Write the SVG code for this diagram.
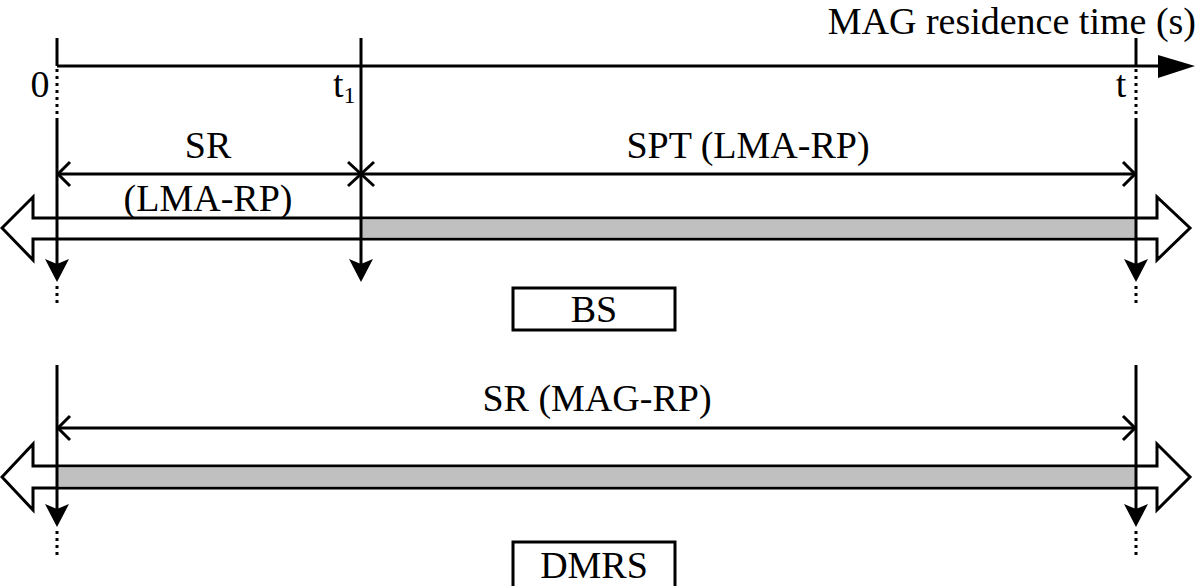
<svg xmlns="http://www.w3.org/2000/svg" width="1200" height="586" viewBox="0 0 1200 586">
<defs>
<style>
.ln{stroke:#000;stroke-width:3;fill:none}
.dot{stroke:#000;stroke-width:3;fill:none;stroke-dasharray:3 4}
.band{fill:#fff;stroke:#000;stroke-width:3;stroke-linejoin:miter}
.gray{fill:#c0c0c0}
.tx{font-family:"Liberation Serif","Times New Roman",serif;font-size:38px;fill:#000}
.box{fill:#fff;stroke:#000;stroke-width:3}
.ah{fill:#000}
</style>
</defs>
<rect width="1200" height="586" fill="#fff"/>
<g id="axis">
<line class="ln" x1="57" y1="66" x2="1162" y2="66"/>
<polygon points="1158,55 1195,66 1158,78" fill="#000"/>
<text class="tx" x="1196" y="34" text-anchor="end">MAG residence time (s)</text>
<text class="tx" x="40" y="97" text-anchor="middle">0</text>
<text class="tx" x="333" y="97">t<tspan font-size="24" dy="6">1</tspan></text>
<text class="tx" x="1121" y="97" text-anchor="middle">t</text>
</g>
<g id="bands">
<polygon class="band" points="2,228 33,197 33,218 1157,218 1157,197 1190,228 1157,260 1157,239 33,239 33,260"/>
<rect class="gray" x="361" y="219.5" width="775" height="18"/>
<polygon class="band" points="2,477 33,444 33,466 1157,466 1157,444 1190,477 1157,510 1157,488 33,488 33,510"/>
<rect class="gray" x="57" y="467.5" width="1079" height="19"/>
</g>
<g id="connectors">
<line class="ln" x1="57" y1="38" x2="57" y2="66"/>
<line class="dot" x1="57" y1="69" x2="57" y2="120"/>
<line class="ln" x1="57" y1="120" x2="57" y2="264"/>
<polygon class="ah" points="45,259 57,264 69,259 57,282"/>
<line class="dot" x1="57" y1="286" x2="57" y2="306"/>
<line class="ln" x1="361" y1="38" x2="361" y2="264"/>
<polygon class="ah" points="349,259 361,264 373,259 361,282"/>
<line class="ln" x1="1136" y1="38" x2="1136" y2="66"/>
<line class="dot" x1="1136" y1="69" x2="1136" y2="120"/>
<line class="ln" x1="1136" y1="120" x2="1136" y2="264"/>
<polygon class="ah" points="1124,259 1136,264 1148,259 1136,282"/>
<line class="dot" x1="1136" y1="286" x2="1136" y2="306"/>
<line class="ln" x1="57" y1="174" x2="1136" y2="174"/>
<polyline class="ln" points="70,162 58,174 70,186"/>
<line class="ln" x1="348" y1="162" x2="374" y2="186"/>
<line class="ln" x1="348" y1="186" x2="374" y2="162"/>
<polyline class="ln" points="1123,162 1135,174 1123,186"/>
<line class="ln" x1="57" y1="365" x2="57" y2="509"/>
<polygon class="ah" points="45,504 57,509 69,504 57,527"/>
<line class="dot" x1="57" y1="531" x2="57" y2="556"/>
<line class="ln" x1="1136" y1="365" x2="1136" y2="509"/>
<polygon class="ah" points="1124,504 1136,509 1148,504 1136,527"/>
<line class="dot" x1="1136" y1="531" x2="1136" y2="556"/>
<line class="ln" x1="57" y1="428" x2="1136" y2="428"/>
<polyline class="ln" points="70,416 58,428 70,440"/>
<polyline class="ln" points="1123,416 1135,428 1123,440"/>
</g>
<g id="labels">
<text class="tx" x="208" y="158" text-anchor="middle">SR</text>
<text class="tx" x="208" y="211" text-anchor="middle">(LMA-RP)</text>
<text class="tx" x="748" y="158" text-anchor="middle">SPT (LMA-RP)</text>
<text class="tx" x="597" y="411" text-anchor="middle">SR (MAG-RP)</text>
</g>
<g id="BS">
<rect class="box" x="513" y="288" width="162" height="42"/>
<text class="tx" x="594" y="322" text-anchor="middle">BS</text>
</g>
<g id="DMRS">
<rect class="box" x="513" y="542" width="162" height="46"/>
<text class="tx" x="594" y="578" text-anchor="middle">DMRS</text>
</g>
</svg>
